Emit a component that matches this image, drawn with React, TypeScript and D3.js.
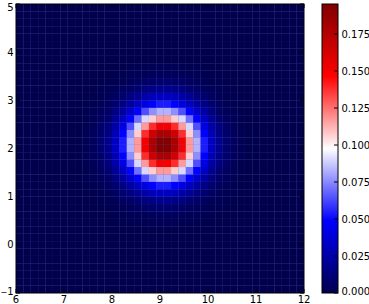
import React from 'react';
import * as d3 from 'd3';

// Axis extents and grid
const xDomain: [number, number] = [6, 12];
const yDomain: [number, number] = [-1, 5];
const nCells = 39;
const blockStart = 9;

// Density values (thousandths) of the 22x22 block of cells around the peak (rows bottom->top)
const densityMilli: number[][] = [
  [0,0,0,0,0,0,1,1,1,2,2,2,2,1,1,1,0,0,0,0,0,0],
  [0,0,0,0,1,1,2,2,3,4,4,4,4,3,2,2,1,1,0,0,0,0],
  [0,0,0,1,1,2,4,5,7,8,9,9,8,7,5,4,2,1,1,0,0,0],
  [0,0,1,2,3,5,7,10,14,16,18,18,16,14,10,7,5,3,2,1,0,0],
  [0,1,1,3,5,9,14,19,25,29,32,32,29,25,19,14,9,5,3,1,1,0],
  [0,1,2,5,9,15,23,32,41,49,54,54,49,41,32,23,15,9,5,2,1,0],
  [1,2,4,7,14,23,35,49,64,76,83,83,76,64,49,35,23,14,7,4,2,1],
  [1,2,5,10,19,32,49,70,90,107,117,117,107,90,70,49,32,19,10,5,2,1],
  [1,3,7,14,25,41,64,90,117,138,151,151,138,117,90,64,41,25,14,7,3,1],
  [2,4,8,16,29,49,76,107,138,164,179,179,164,138,107,76,49,29,16,8,4,2],
  [2,4,9,18,32,54,83,117,151,179,195,195,179,151,117,83,54,32,18,9,4,2],
  [2,4,9,18,32,54,83,117,151,179,195,195,179,151,117,83,54,32,18,9,4,2],
  [2,4,8,16,29,49,76,107,138,164,179,179,164,138,107,76,49,29,16,8,4,2],
  [1,3,7,14,25,41,64,90,117,138,151,151,138,117,90,64,41,25,14,7,3,1],
  [1,2,5,10,19,32,49,70,90,107,117,117,107,90,70,49,32,19,10,5,2,1],
  [1,2,4,7,14,23,35,49,64,76,83,83,76,64,49,35,23,14,7,4,2,1],
  [0,1,2,5,9,15,23,32,41,49,54,54,49,41,32,23,15,9,5,2,1,0],
  [0,1,1,3,5,9,14,19,25,29,32,32,29,25,19,14,9,5,3,1,1,0],
  [0,0,1,2,3,5,7,10,14,16,18,18,16,14,10,7,5,3,2,1,0,0],
  [0,0,0,1,1,2,4,5,7,8,9,9,8,7,5,4,2,1,1,0,0,0],
  [0,0,0,0,1,1,2,2,3,4,4,4,4,3,2,2,1,1,0,0,0,0],
  [0,0,0,0,0,0,1,1,1,2,2,2,2,1,1,1,0,0,0,0,0,0],
];

const xTicks = [6, 7, 8, 9, 10, 11, 12];
const yTicks = [-1, 0, 1, 2, 3, 4, 5];
const cbTicks = [0, 0.025, 0.05, 0.075, 0.1, 0.125, 0.15, 0.175];
const vmin = 0;
const vmax = 0.1953;

const seismicStops = ['rgb(0,0,77)', 'rgb(0,0,255)', 'rgb(255,255,255)', 'rgb(255,0,0)', 'rgb(128,0,0)'];

const FONT = 'DejaVu Sans';

export default function App() {
  const W = 369, H = 304;
  const px0 = 16, px1 = 304, py0 = 4, py1 = 293;
  const cbx0 = 322, cbx1 = 338;

  const x = d3.scaleLinear().domain(xDomain).range([px0, px1]);
  const y = d3.scaleLinear().domain(yDomain).range([py1, py0]);
  const cScale = d3.scaleLinear().domain([vmin, vmax]).range([py1, py0]);

  const color = d3.scaleLinear<string>()
    .domain([0, 0.25, 0.5, 0.75, 1].map(t => vmin + t * (vmax - vmin)))
    .range(seismicStops)
    .interpolate(d3.interpolateRgb)
    .clamp(true);

  const edgesX = d3.range(nCells + 1).map(k => xDomain[0] + (k * (xDomain[1] - xDomain[0])) / nCells);
  const edgesY = d3.range(nCells + 1).map(k => yDomain[0] + (k * (yDomain[1] - yDomain[0])) / nCells);

  const valueAt = (i: number, j: number) => {
    const bi = i - blockStart, bj = j - blockStart;
    if (bi >= 0 && bi < densityMilli.length && bj >= 0 && bj < densityMilli[bi].length) {
      return densityMilli[bi][bj] / 1000;
    }
    return 0;
  };

  const cells: React.ReactElement[] = [];
  for (let i = 0; i < nCells; i++) {
    for (let j = 0; j < nCells; j++) {
      const x0 = x(edgesX[j]), x1 = x(edgesX[j + 1]);
      const yTop = y(edgesY[i + 1]), yBot = y(edgesY[i]);
      cells.push(
        <rect key={`${i}-${j}`} x={x0} y={yTop} width={x1 - x0} height={yBot - yTop} fill={color(valueAt(i, j))} />
      );
    }
  }

  const tickLen = 4;

  return (
    <svg width={W} height={H} style={{ position: 'absolute', left: 0, top: 0, background: '#fff' }}
      fontFamily={FONT} fontSize={10}>
      <defs>
        <linearGradient id="seis" x1="0" y1="1" x2="0" y2="0">
          {seismicStops.map((c, k) => (
            <stop key={k} offset={k / (seismicStops.length - 1)} stopColor={c} />
          ))}
        </linearGradient>
      </defs>
      {/* backing layer: lets faint cell seams show, as in the reference */}
      <rect x={px0} y={py0} width={px1 - px0} height={py1 - py0} fill="rgb(100,100,175)" />
      <g>{cells}</g>
      {/* ticks on the plot, inside, all four sides */}
      {xTicks.map(t => (
        <g key={`xt${t}`}>
          <line x1={x(t)} x2={x(t)} y1={py1} y2={py1 - tickLen} stroke="#000" strokeWidth={1} />
          <line x1={x(t)} x2={x(t)} y1={py0} y2={py0 + tickLen} stroke="#000" strokeWidth={1} />
          <text x={x(t)} y={303} textAnchor="middle">{t}</text>
        </g>
      ))}
      {yTicks.map(t => (
        <g key={`yt${t}`}>
          <line x1={px0} x2={px0 + tickLen} y1={y(t)} y2={y(t)} stroke="#000" strokeWidth={1} />
          <line x1={px1} x2={px1 - tickLen} y1={y(t)} y2={y(t)} stroke="#000" strokeWidth={1} />
          <text x={13.5} y={Math.min(Math.max(y(t), 7), 291.5) + 3.5} textAnchor="end">
            {t < 0 ? (<><tspan fontSize={8}>{'\u2212'}</tspan>{Math.abs(t)}</>) : `${t}`}
          </text>
        </g>
      ))}
      <rect x={px0} y={py0} width={px1 - px0} height={py1 - py0} fill="none" stroke="#000" strokeWidth={1} />

      {/* colorbar */}
      <rect x={cbx0} y={py0} width={cbx1 - cbx0} height={py1 - py0} fill="url(#seis)" />
      {cbTicks.map(t => (
        <g key={`cb${t}`}>
          <line x1={cbx1} x2={cbx1 - tickLen} y1={cScale(t)} y2={cScale(t)} stroke="#000" strokeWidth={1} />
          <text x={341.5} y={Math.min(cScale(t), 291.5) + 3.5} textAnchor="start">{t.toFixed(3)}</text>
        </g>
      ))}
      <rect x={cbx0} y={py0} width={cbx1 - cbx0} height={py1 - py0} fill="none" stroke="#000" strokeWidth={1} />
    </svg>
  );
}
